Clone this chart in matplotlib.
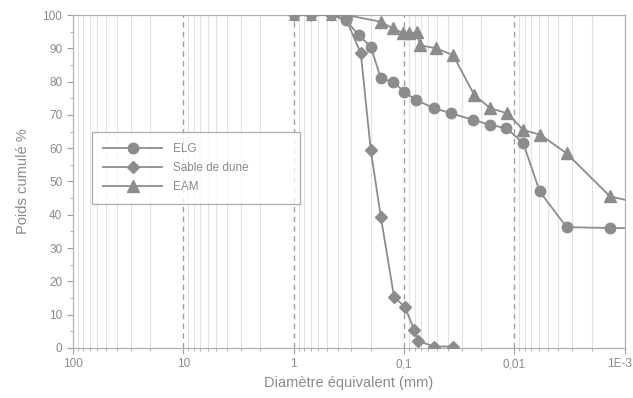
import numpy as np
import matplotlib
matplotlib.use("Agg")
import matplotlib.pyplot as plt
import matplotlib.transforms as mtransforms
from matplotlib.path import Path
from matplotlib.ticker import FixedLocator, FixedFormatter, MultipleLocator, NullFormatter

plt.rcParams["font.family"] = ["Liberation Sans", "DejaVu Sans"]

# Data (diameter in mm, cumulative weight %)
elg_d = [1.0, 0.70, 0.46, 0.337, 0.257, 0.20, 0.162, 0.126, 0.10, 0.078, 0.053,
         0.0374, 0.0236, 0.0165, 0.0118, 0.0083, 0.0059, 0.00337, 0.00137, 0.001]
elg_p = [100, 100, 100, 98.5, 94, 90.5, 81, 80, 77, 74.5, 72,
         70.5, 68.5, 67, 66, 61.5, 47, 36.3, 36, 36]

sable_d = [1.0, 0.70, 0.46, 0.337, 0.246, 0.20, 0.162, 0.123, 0.098, 0.081,
           0.074, 0.053, 0.036]
sable_p = [100, 100, 100, 99, 88.5, 59.5, 39.3, 15.3, 12.3, 5.4, 2, 0.4, 0.4]

eam_d = [1.0, 0.70, 0.46, 0.33, 0.162, 0.126, 0.102, 0.090, 0.076, 0.072,
         0.051, 0.0359, 0.0231, 0.0165, 0.0116, 0.0083, 0.0058, 0.00337,
         0.00137, 0.001]
eam_p = [100, 100, 100, 100, 98, 96, 94.6, 94.6, 94.8, 91,
         90, 88, 76, 72, 70.5, 65.5, 64, 58.5, 45.6, 44.5]

xtick_vals = [100, 10, 1, 0.1, 0.01, 0.001]
xtick_labels = ["100", "10", "1", "0,1", "0,01", "1E-3"]

grey = "#8c8c8c"
text_grey = "#8a8a8a"

# lower halves of the markers, for points sitting on the top frame
half_circle = Path.wedge(180, 360)
half_diamond = Path([(-1, 0), (0, -1), (1, 0), (-1, 0)], closed=True)
half_triangle = Path([(-1, -1), (1, -1), (0.5, 0), (-0.5, 0), (-1, -1)], closed=True)

fig = plt.figure(figsize=(6.33, 3.98), dpi=100)
ax = fig.add_axes([0.115, 0.126, 0.872, 0.836])

ax.set_xscale("log")
ax.set_xlim(100, 0.001)
ax.set_ylim(0, 100)

# grid: light minor lines, dashed decades
minor = [m * 10.0 ** e for e in range(-3, 2) for m in range(2, 10)]
for v in minor:
    ax.axvline(v, color="#e2e2e2", lw=0.8, zorder=0)
for v in [10, 1, 0.1, 0.01]:
    ax.axvline(v, color="#a0a0a0", lw=1.0, ls=(0, (4, 3)), zorder=0)


def draw_series(d, p, marker, ms, half, half_ms, label, last_marker=True):
    n = len(d) if last_marker else len(d) - 1
    top = [i for i in range(n) if p[i] >= 100]
    rest = [i for i in range(n) if p[i] < 100]
    ax.plot(d, p, color=grey, lw=1.3, marker=marker, ms=ms,
            markevery=rest, label=label, zorder=3)
    ax.plot([d[i] for i in top], [p[i] for i in top], ls="none", marker=half,
            ms=half_ms, color=grey, markeredgecolor="none", zorder=3)


draw_series(elg_d, elg_p, "o", 7.5, half_circle, 7.5, "ELG", last_marker=False)
draw_series(sable_d, sable_p, "D", 6.5, half_diamond, 9.2, "Sable de dune")
draw_series(eam_d, eam_p, "^", 8, half_triangle, 8, "EAM", last_marker=False)

ax.xaxis.set_major_locator(FixedLocator(xtick_vals))
ax.xaxis.set_major_formatter(FixedFormatter(xtick_labels))
ax.xaxis.set_minor_locator(FixedLocator(minor))
ax.xaxis.set_minor_formatter(NullFormatter())
ax.yaxis.set_major_locator(MultipleLocator(10))
ax.yaxis.set_minor_locator(MultipleLocator(5))

for s in ax.spines.values():
    s.set_color("#b0b0b0")
    s.set_linewidth(0.9)
ax.tick_params(axis="both", which="major", colors="#a0a0a0", labelcolor=text_grey,
               labelsize=8.5, length=4, width=0.8)
ax.tick_params(axis="both", which="minor", colors="#a0a0a0", length=2, width=0.6)

ax.set_xlabel("Diamètre équivalent (mm)", color=text_grey, fontsize=10.5, labelpad=4)
ax.set_ylabel("Poids cumulé %", color=text_grey, fontsize=10.5, labelpad=9)

# keep the last tick label inside the figure
fig.canvas.draw()
last = ax.get_xticklabels()[-1]
last.set_horizontalalignment("right")
last.set_transform(last.get_transform() + mtransforms.ScaledTranslation(
    7 / 100, 0, fig.dpi_scale_trans))

leg = ax.legend(loc="upper left", bbox_to_anchor=(0.025, 0.665, 0.397, 0.0),
                mode="expand", fontsize=8.5, frameon=True, fancybox=False,
                handlelength=5, handletextpad=0.9, labelspacing=0.6,
                borderpad=0.9)
leg.get_frame().set_edgecolor("#999999")
leg.get_frame().set_linewidth(0.9)
for t in leg.get_texts():
    t.set_color(text_grey)

fig.savefig("out.png", dpi=100)
